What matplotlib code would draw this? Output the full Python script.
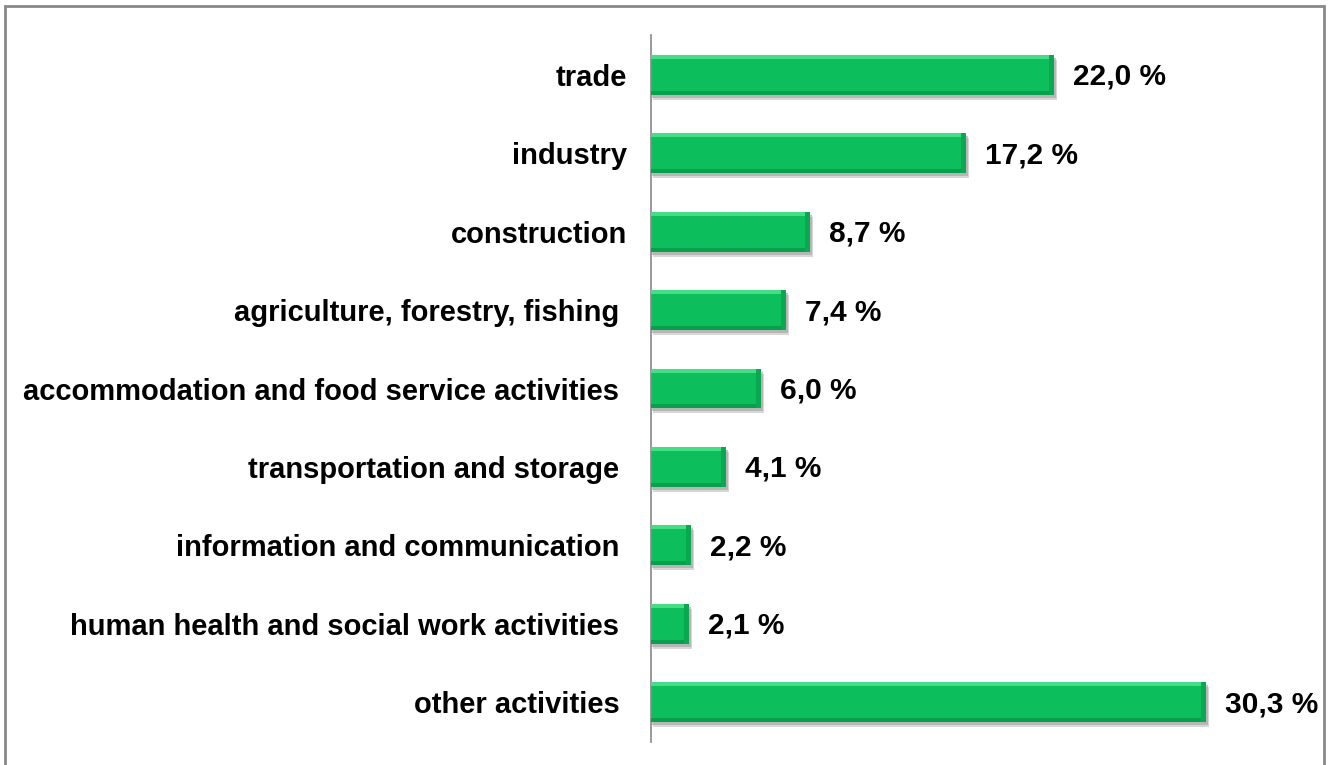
import numpy as np
import matplotlib
matplotlib.use('Agg')
import matplotlib.pyplot as plt
from matplotlib.patches import Rectangle

plt.rcParams['font.family'] = ['Liberation Sans', 'DejaVu Sans']

categories = ['trade', 'industry', 'construction', 'agriculture, forestry, fishing ',
              'accommodation and food service activities ', 'transportation and storage ',
              'information and communication ', 'human health and social work activities ',
              'other activities ']
values = [22.0, 17.2, 8.7, 7.4, 6.0, 4.1, 2.2, 2.1, 30.3]
value_labels = ['22,0 %', '17,2 %', '8,7 %', '7,4 %', '6,0 %', '4,1 %', '2,2 %', '2,1 %', '30,3 %']

W, H = 1331, 765
fig = plt.figure(figsize=(W / 100, H / 100), dpi=100)
ax_w = 604
ax = fig.add_axes([651 / W, 1 - 742 / H, ax_w / W, (742 - 35) / H])

y = np.arange(len(categories))
h = 0.51
px = 33 / float(ax_w)   # data units per pixel in x
py = 9.02 / 707.0       # data units per pixel in y

# shadow
ax.barh(y + 5 * py, np.array(values) + 1 * px, height=h, left=2 * px,
        color='#bdbdbd', alpha=0.6, zorder=1)
ax.barh(y + 3 * py, np.array(values) + 1 * px, height=h, left=1 * px,
        color='#a0a0a0', alpha=0.6, zorder=1)
# main bar
ax.barh(y, values, height=h, color='#0cbf5c', zorder=2)
# bevel: top light, bottom and right dark
ax.barh(y - h / 2 + 2 * py, values, height=4 * py, color='#45dd85', zorder=3)
ax.barh(y + h / 2 - 2 * py, values, height=4 * py, color='#08a04c', zorder=3)
ax.barh(y, 5 * px, height=h, left=np.array(values) - 5 * px, color='#09a851', zorder=3)

for yi, v, lab in zip(y, values, value_labels):
    ax.text(v + 19 * px, yi + 2 * py, lab, va='center', ha='left', fontsize=21.5,
            fontweight='bold', color='black')

ax.set_xlim(0, 33)
ax.set_ylim(len(categories) - 0.49, -0.51)
ax.set_yticks(y)
ax.set_yticklabels(categories, fontsize=21, fontweight='bold')
ax.tick_params(axis='y', length=0, pad=17)
ax.set_xticks([])
for s in ['top', 'right', 'bottom']:
    ax.spines[s].set_visible(False)
ax.spines['left'].set_color('#888888')
ax.spines['left'].set_linewidth(1.2)

fig.patches.append(Rectangle((5 / W, -0.1), (1324 - 5) / W, 1.1 - 6 / H,
                             transform=fig.transFigure, fill=False,
                             edgecolor='#888888', linewidth=2))

fig.savefig('out.png', dpi=100, facecolor='white')
